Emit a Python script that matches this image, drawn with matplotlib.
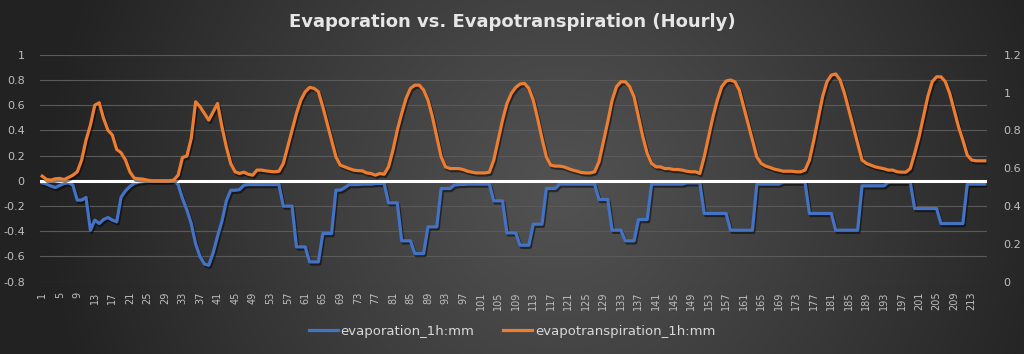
import numpy as np
import matplotlib.pyplot as plt
import matplotlib.patheffects as pe

hours = list(range(1, 217))

# evaporation_1h:mm (left axis)
evaporation = [
    -0.016, -0.026, -0.042, -0.053, -0.037, -0.021, -0.016, -0.034, -0.153, -0.153,
    -0.132, -0.392, -0.312, -0.339, -0.307, -0.291, -0.312, -0.325, -0.13, -0.08,
    -0.045, -0.02, -0.01, -0.005, 0, 0, 0, 0, 0, 0,
    0, -0.03, -0.14, -0.23, -0.34, -0.5, -0.6, -0.66, -0.67, -0.57,
    -0.44, -0.32, -0.16, -0.075, -0.075, -0.07, -0.035, -0.03, -0.03, -0.03,
    -0.03, -0.03, -0.03, -0.03, -0.03, -0.201, -0.201, -0.201, -0.524, -0.524,
    -0.524, -0.643, -0.643, -0.643, -0.418, -0.418, -0.418, -0.074, -0.074, -0.055,
    -0.03, -0.03, -0.03, -0.026, -0.026, -0.026, -0.021, -0.021, -0.021, -0.175,
    -0.175, -0.175, -0.476, -0.476, -0.476, -0.577, -0.577, -0.577, -0.365, -0.365,
    -0.365, -0.061, -0.061, -0.061, -0.034, -0.029, -0.029, -0.026, -0.026, -0.026,
    -0.026, -0.026, -0.026, -0.159, -0.159, -0.159, -0.413, -0.413, -0.413, -0.511,
    -0.511, -0.511, -0.344, -0.344, -0.344, -0.061, -0.061, -0.061, -0.026, -0.026,
    -0.026, -0.026, -0.026, -0.026, -0.026, -0.026, -0.026, -0.148, -0.148, -0.148,
    -0.392, -0.392, -0.392, -0.476, -0.476, -0.476, -0.307, -0.307, -0.307, -0.026,
    -0.026, -0.026, -0.026, -0.026, -0.026, -0.026, -0.026, -0.016, -0.016, -0.016,
    -0.016, -0.259, -0.259, -0.259, -0.259, -0.259, -0.259, -0.392, -0.392, -0.392,
    -0.392, -0.392, -0.392, -0.026, -0.026, -0.026, -0.026, -0.026, -0.026, -0.011,
    -0.011, -0.011, -0.011, -0.011, -0.011, -0.259, -0.259, -0.259, -0.259, -0.259,
    -0.259, -0.392, -0.392, -0.392, -0.392, -0.392, -0.392, -0.04, -0.04, -0.04,
    -0.04, -0.04, -0.04, -0.011, -0.011, -0.011, -0.011, -0.011, -0.011, -0.22,
    -0.22, -0.22, -0.22, -0.22, -0.22, -0.339, -0.339, -0.339, -0.339, -0.339,
    -0.339, -0.026, -0.026, -0.026, -0.026, -0.026,
]

# evapotranspiration_1h:mm (right axis)
evapotranspiration = [
    0.558, 0.54, 0.537, 0.544, 0.546, 0.54, 0.551, 0.563, 0.581, 0.643,
    0.748, 0.828, 0.933, 0.946, 0.863, 0.801, 0.775, 0.699, 0.681, 0.643,
    0.581, 0.547, 0.544, 0.542, 0.537, 0.533, 0.533, 0.533, 0.533, 0.533,
    0.537, 0.563, 0.657, 0.664, 0.757, 0.951, 0.925, 0.889, 0.854, 0.898,
    0.942, 0.819, 0.713, 0.625, 0.581, 0.572, 0.579, 0.568, 0.563, 0.59,
    0.59, 0.586, 0.583, 0.581, 0.584, 0.625, 0.713, 0.801, 0.889, 0.96,
    1.004, 1.027, 1.022, 1.004, 0.925, 0.837, 0.748, 0.66, 0.616, 0.607,
    0.598, 0.59, 0.587, 0.586, 0.575, 0.572, 0.563, 0.572, 0.568, 0.607,
    0.695, 0.801, 0.889, 0.969, 1.022, 1.039, 1.039, 1.013, 0.96, 0.872,
    0.766, 0.66, 0.607, 0.598, 0.598, 0.598, 0.593, 0.584, 0.579, 0.575,
    0.575, 0.575, 0.579, 0.643, 0.748, 0.854, 0.942, 0.995, 1.027, 1.045,
    1.048, 1.022, 0.96, 0.863, 0.757, 0.66, 0.616, 0.611, 0.611, 0.607,
    0.598, 0.59, 0.584, 0.577, 0.575, 0.575, 0.581, 0.634, 0.74, 0.845,
    0.96, 1.031, 1.057, 1.057, 1.031, 0.978, 0.872, 0.766, 0.678, 0.625,
    0.607, 0.607, 0.598, 0.598, 0.593, 0.593, 0.59, 0.584, 0.581, 0.581,
    0.572, 0.66, 0.766, 0.872, 0.96, 1.031, 1.061, 1.066, 1.057, 1.013,
    0.925, 0.837, 0.748, 0.66, 0.625, 0.611, 0.604, 0.595, 0.59, 0.584,
    0.584, 0.584, 0.581, 0.581, 0.59, 0.643, 0.748, 0.863, 0.978, 1.057,
    1.092, 1.098, 1.066, 0.995, 0.907, 0.819, 0.731, 0.643, 0.625, 0.616,
    0.607, 0.602, 0.597, 0.59, 0.59, 0.581, 0.579, 0.579, 0.598, 0.678,
    0.766, 0.872, 0.978, 1.057, 1.083, 1.083, 1.057, 0.995, 0.907, 0.819,
    0.748, 0.669, 0.643, 0.639, 0.639, 0.639,
]

left_ticks = [-0.8, -0.6, -0.4, -0.2, 0, 0.2, 0.4, 0.6, 0.8, 1]
left_labels = ["-0.8", "-0.6", "-0.4", "-0.2", "0", "0.2", "0.4", "0.6", "0.8", "1"]
right_ticks = [0, 0.2, 0.4, 0.6, 0.8, 1.0, 1.2]
right_labels = ["0", "0.2", "0.4", "0.6", "0.8", "1", "1.2"]
x_ticks = hours[::4]

W, H = 1024, 354
fig = plt.figure(figsize=(W / 100, H / 100), dpi=100)

# dark radial background
bg = fig.add_axes([0, 0, 1, 1], zorder=-10)
yy, xx = np.mgrid[0:H, 0:W]
r = np.clip(np.hypot(xx - 560, yy - 190) / 520, 0, 1)
c0 = np.array([0x52, 0x52, 0x52]) / 255
c1 = np.array([0x22, 0x22, 0x22]) / 255
img = c0 + (c1 - c0) * r[..., None] ** 1.1
bg.imshow(img, extent=[0, W, H, 0], aspect="auto")
bg.axis("off")

ax = fig.add_axes([40 / W, 1 - 281.7 / H, 947 / W, 227 / H])
ax.patch.set_alpha(0)
ax2 = ax.twinx()

shadow = [pe.SimpleLineShadow(offset=(1, -1.5), shadow_color="black", alpha=0.5), pe.Normal()]

ax.plot(hours, evaporation, color="#4472C4", lw=2.3, zorder=3, path_effects=shadow)
ax.axhline(0, color="white", lw=2.2, zorder=4)
ax2.plot(hours, evapotranspiration, color="#ED7D31", lw=2.3, zorder=5, path_effects=shadow)

ax.set_xlim(0.5, 216.5)
ax.set_ylim(-0.8, 1)
ax2.set_ylim(0, 1.2)

ax.set_yticks(left_ticks, left_labels)
ax2.set_yticks(right_ticks, right_labels)
ax.set_xticks(x_ticks, [str(h) for h in x_ticks], rotation=90)

ax.grid(axis="y", color="#5a5a5a", lw=0.8)
ax.set_axisbelow(True)

for a in (ax, ax2):
    for s in a.spines.values():
        s.set_visible(False)
    a.tick_params(length=0, colors="#bfbfbf", labelsize=8)
ax.tick_params(axis="y", pad=11)
ax2.tick_params(axis="y", pad=12)
ax.tick_params(axis="x", labelsize=7, pad=7)

fig.text(0.5, 1 - 22 / H, "Evaporation vs. Evapotranspiration (Hourly)",
         ha="center", va="center", color="#e6e6e6", fontsize=13, fontweight="bold")

h1, = ax.plot([], [], color="#4472C4", lw=2.3)
h2, = ax.plot([], [], color="#ED7D31", lw=2.3)
fig.legend([h1, h2], ["evaporation_1h:mm", "evapotranspiration_1h:mm"],
           loc="center", bbox_to_anchor=(0.5, 1 - 331 / H), ncol=2, frameon=False,
           fontsize=9.5, labelcolor="#d9d9d9", handlelength=2.2, handletextpad=0.2,
           columnspacing=2.2)

fig.savefig("out.png", dpi=100)
